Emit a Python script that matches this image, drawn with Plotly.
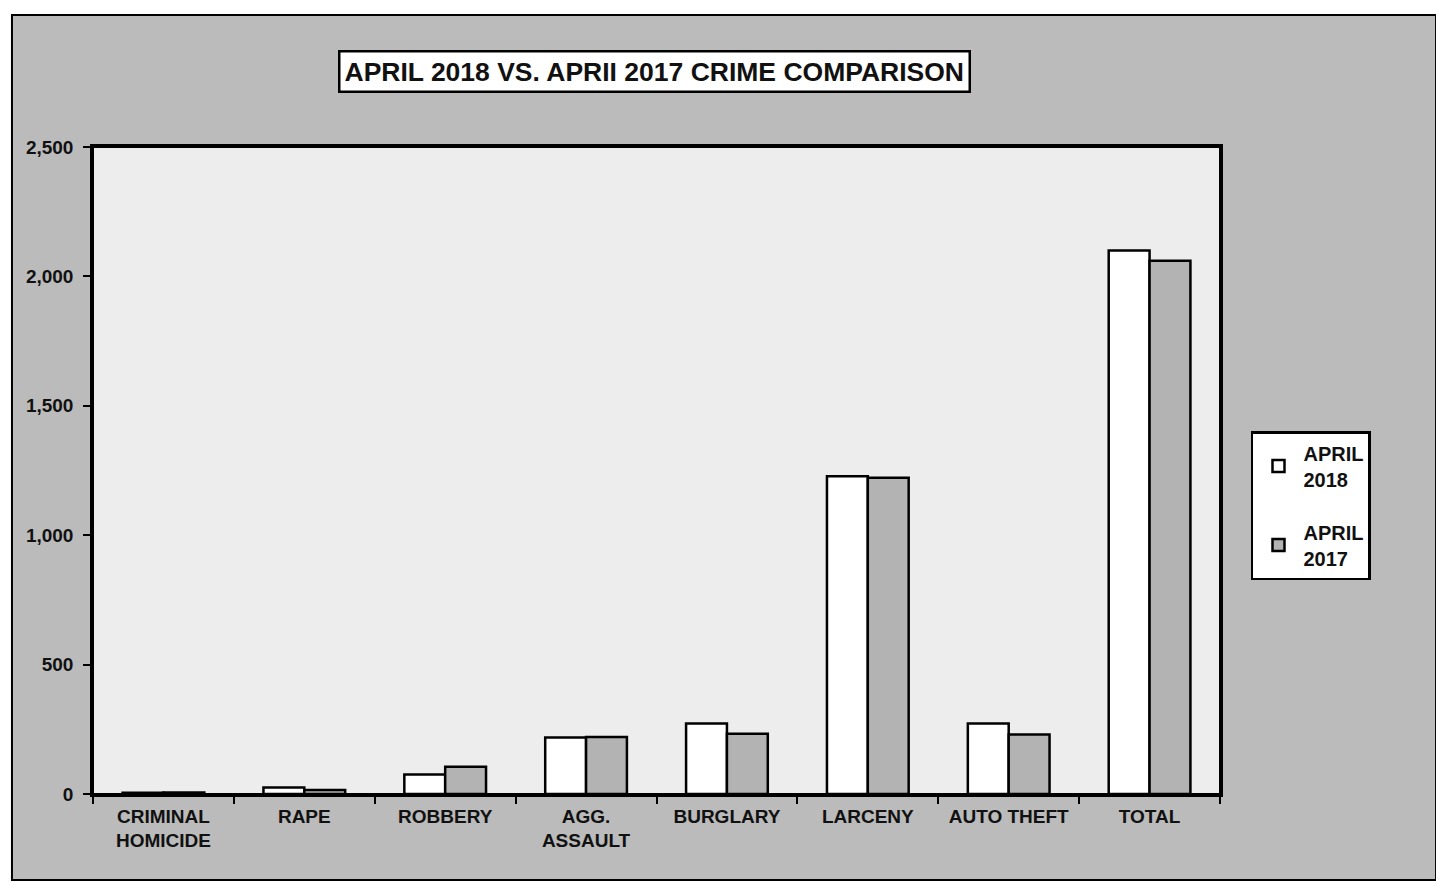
import plotly.graph_objects as go

categories = ["CRIMINAL<br>HOMICIDE", "RAPE", "ROBBERY", "AGG.<br>ASSAULT",
              "BURGLARY", "LARCENY", "AUTO THEFT", "TOTAL"]
april_2018 = [5, 25, 75, 218, 272, 1228, 272, 2100]
april_2017 = [6, 15, 105, 220, 233, 1222, 230, 2060]
y_ticks = [0, 500, 1000, 1500, 2000, 2500]
title_text = "APRIL 2018 VS. APRII 2017 CRIME COMPARISON"

FONT = "Liberation Sans, Arial, sans-serif"

fig = go.Figure()
fig.add_trace(go.Bar(x=categories, y=april_2018, name="APRIL<br>2018", legendgroup="a",
                     marker=dict(color="white", line=dict(color="black", width=2.5))))
fig.add_trace(go.Bar(x=categories, y=april_2017, name="APRIL<br>2017", legendgroup="b",
                     marker=dict(color="#b3b3b3", line=dict(color="black", width=2.5))))

# page body has an 8px margin; margins below compensate so the plot sits where the reference has it
fig.update_layout(
    width=1444, height=882,
    margin=dict(l=85, r=232, t=139, b=96),
    paper_bgcolor="white",
    plot_bgcolor="rgba(0,0,0,0)",
    barmode="group", bargap=0.42, bargroupgap=0,
    font=dict(family=FONT, color="#111", size=18),
    showlegend=True,
    legend=dict(x=1.0275, y=0.561, xanchor="left", yanchor="top",
                bgcolor="white", bordercolor="black", borderwidth=2.5,
                font=dict(family=FONT, size=20, color="#111", weight="bold"),
                tracegroupgap=24, itemwidth=40),
    shapes=[
        dict(type="rect", xref="paper", yref="paper", x0=-0.0719, x1=1.1917,
             y0=-0.133, y1=1.204, fillcolor="#bbbbbb",
             line=dict(color="black", width=2), layer="below"),
        dict(type="rect", xref="x domain", yref="y domain", x0=0, x1=1, y0=0, y1=1,
             fillcolor="#ededed", line=dict(color="black", width=2), layer="below"),
    ],
    annotations=[
        dict(text="<b>" + title_text + "</b>", xref="paper", yref="paper",
             x=0.498, y=1.116, xanchor="center", yanchor="middle", showarrow=False,
             font=dict(family=FONT, size=26.5, color="#111"),
             bgcolor="white", bordercolor="black", borderwidth=2.5, borderpad=4),
    ],
)

fig.update_xaxes(
    showline=True, linecolor="black", linewidth=2.5, mirror=True,
    ticks="outside", tickson="boundaries", ticklen=7, tickcolor="black", tickwidth=1.5,
    tickfont=dict(family=FONT, size=19, color="#111", weight="bold"),
    ticklabelstandoff=3,
    showgrid=False,
)
fig.update_yaxes(
    range=[0, 2500], tickvals=y_ticks, tickformat=",",
    showline=True, linecolor="black", linewidth=2.5, mirror=True,
    ticks="outside", ticklen=7, tickcolor="black", tickwidth=1.5,
    tickfont=dict(family=FONT, size=19, color="#111", weight="bold"),
    ticklabelstandoff=6,
    showgrid=False, zeroline=False,
)

fig.write_html("out.html")
